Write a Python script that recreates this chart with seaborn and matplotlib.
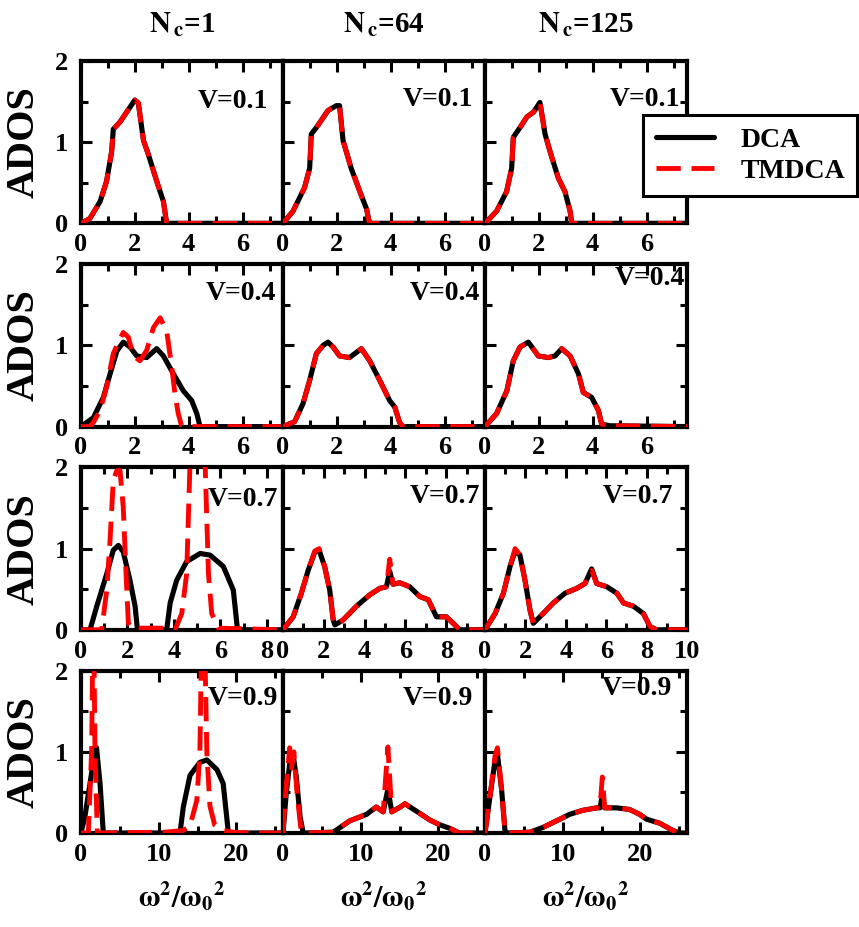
import matplotlib
matplotlib.use("Agg")
import matplotlib.pyplot as plt
from matplotlib.ticker import MultipleLocator
import numpy as np
import pandas as pd
import seaborn as sns

# ---------------------------------------------------------------- data
cluster_sizes = [1, 64, 125]
disorder = [0.1, 0.4, 0.7, 0.9]
x_upper = [[7.5, 7.5, 7.5], [7.5, 7.5, 7.5], [8.7, 9.9, 10.0], [26.0, 26.0, 26.0]]
x_major = [2, 2, 2, 10]
x_minor = [1, 1, 1, 5]

# V = 0.1
v01_nc1_x = [0, 0.33, 0.71, 0.95, 1.14, 1.2, 1.45, 2.0, 2.13, 2.32, 2.5, 2.81, 3.06, 3.18, 7.5]
v01_nc1_y = [0, 0.06, 0.27, 0.52, 0.89, 1.16, 1.25, 1.52, 1.48, 1.02, 0.85, 0.52, 0.27, 0, 0]
v01_nc64_x = [0, 0.37, 0.8, 0.99, 1.05, 1.24, 1.67, 1.98, 2.1, 2.23, 2.53, 2.9, 3.1, 3.2, 3.25, 7.5]
v01_nc64_y = [0, 0.15, 0.44, 0.68, 1.10, 1.18, 1.39, 1.45, 1.45, 1.02, 0.68, 0.35, 0.18, 0.02, 0, 0]
v01_nc125_x = [0, 0.43, 0.8, 0.99, 1.05, 1.3, 1.55, 1.8, 1.92, 2.04, 2.23, 2.41, 2.72, 2.97, 3.16, 3.22, 7.5]
v01_nc125_y = [0, 0.15, 0.39, 0.68, 1.06, 1.18, 1.31, 1.37, 1.43, 1.49, 1.10, 0.89, 0.56, 0.39, 0.15, 0, 0]

# V = 0.4
v04_nc1_dca_x = [0, 0.46, 0.83, 1.08, 1.33, 1.57, 1.82, 2.07, 2.44, 2.81, 3.06, 3.43, 3.8, 4.11, 4.3, 4.42, 7.5]
v04_nc1_dca_y = [0, 0.11, 0.36, 0.65, 0.93, 1.04, 0.98, 0.87, 0.85, 0.96, 0.87, 0.65, 0.44, 0.32, 0.16, 0, 0]
v04_nc1_tm_x = [0, 0.33, 0.46, 0.71, 0.95, 1.2, 1.39, 1.57, 1.76, 1.94, 2.19, 2.44, 2.69, 2.94, 3.18, 3.37,
                3.49, 3.61, 3.74, 7.5]
v04_nc1_tm_y = [0, 0, 0.05, 0.2, 0.49, 0.9, 1.04, 1.16, 1.1, 0.87, 0.81, 0.94, 1.22, 1.34, 1.18, 0.73,
                0.4, 0.16, 0, 0]
v04_nc64_x = [0, 0.43, 0.74, 0.99, 1.24, 1.49, 1.67, 1.86, 2.1, 2.47, 2.91, 3.22, 3.59, 3.96, 4.15, 4.33, 4.46, 7.5]
v04_nc64_y = [0, 0.06, 0.28, 0.57, 0.9, 1.0, 1.04, 0.98, 0.87, 0.85, 0.96, 0.81, 0.57, 0.32, 0.24, 0.05, 0, 0]
v04_nc125_x = [0, 0.43, 0.81, 1.05, 1.3, 1.61, 1.98, 2.35, 2.6, 2.85, 3.16, 3.47, 3.65, 3.96, 4.21, 4.33, 4.64, 7.5]
v04_nc125_y = [0, 0.16, 0.44, 0.81, 0.98, 1.04, 0.87, 0.85, 0.87, 0.96, 0.87, 0.65, 0.42, 0.36, 0.2, 0.03, 0.01, 0]

# V = 0.7
v07_nc1_dca_x = [0, 0.39, 0.68, 1.11, 1.39, 1.61, 1.82, 2.11, 2.33, 2.43, 3.69, 3.84, 4.12, 4.55, 5.13,
                 5.56, 6.13, 6.56, 6.74, 8.7]
v07_nc1_dca_y = [0, 0, 0.29, 0.69, 0.98, 1.04, 0.96, 0.61, 0.29, 0, 0, 0.33, 0.61, 0.84, 0.94,
                 0.92, 0.78, 0.49, 0, 0]
v07_nc1_tm_x = [0, 0.89, 1.11, 1.25, 1.39, 1.54, 1.68, 1.82, 1.94, 2.04, 2.18, 3.5, 4.05, 4.34, 4.55,
                4.7, 5.0, 5.34, 5.49, 5.63, 5.92, 8.7]
v07_nc1_tm_y = [0, 0, 0.49, 1.1, 1.84, 1.96, 1.96, 1.51, 0.69, 0.08, 0.02, 0.02, 0, 0.2, 0.69,
                2.1, 3.0, 2.1, 0.69, 0.2, 0.02, 0]
v07_nc64_x = [0, 0.5, 0.9, 1.23, 1.56, 1.77, 2.04, 2.29, 2.46, 2.54, 2.94, 3.6, 4.25, 4.74, 5.07, 5.23,
              5.39, 5.72, 6.21, 6.7, 7.12, 7.52, 8.01, 8.42, 8.66, 9.9]
v07_nc64_dca_y = [0, 0.16, 0.45, 0.73, 0.96, 0.98, 0.78, 0.49, 0.12, 0.06, 0.12, 0.29, 0.43, 0.51, 0.53, 0.72,
                  0.56, 0.58, 0.53, 0.41, 0.37, 0.16, 0.16, 0.06, 0, 0]
v07_nc64_tm_y = [0, 0.16, 0.45, 0.73, 0.97, 1.0, 0.78, 0.49, 0.12, 0.06, 0.12, 0.29, 0.43, 0.51, 0.53, 0.87,
                 0.56, 0.58, 0.53, 0.41, 0.37, 0.16, 0.16, 0.06, 0, 0]
v07_nc125_x = [0, 0.5, 0.91, 1.24, 1.49, 1.73, 1.98, 2.23, 2.39, 2.72, 3.38, 3.96, 4.54, 4.95, 5.28, 5.53,
               6.03, 6.53, 6.86, 7.35, 7.84, 8.17, 8.5, 10.0]
v07_nc125_dca_y = [0, 0.2, 0.45, 0.78, 0.97, 0.92, 0.61, 0.24, 0.08, 0.16, 0.33, 0.45, 0.51, 0.57, 0.75, 0.57,
                   0.53, 0.45, 0.33, 0.29, 0.2, 0.04, 0, 0]
v07_nc125_tm_y = [0, 0.2, 0.45, 0.78, 1.0, 0.92, 0.61, 0.24, 0.08, 0.16, 0.33, 0.45, 0.51, 0.57, 0.73, 0.57,
                  0.53, 0.45, 0.33, 0.29, 0.2, 0.04, 0, 0]

# V = 0.9
v09_nc1_dca_x = [0, 0.5, 1.16, 1.8, 2.0, 2.45, 2.87, 12.74, 13.17, 14.03, 15.3, 16.2, 17.5, 18.3, 18.97, 26]
v09_nc1_dca_y = [0, 0.2, 0.61, 1.02, 1.05, 0.61, 0, 0, 0.32, 0.71, 0.87, 0.9, 0.78, 0.61, 0, 0]
v09_nc1_tm_x = [0, 0.94, 1.37, 1.59, 1.8, 2.1, 10.8, 13.1, 14.0, 14.9, 15.3, 15.7, 16.2, 16.6, 17.2, 18.3,
                19.6, 22, 26]
v09_nc1_tm_y = [0, 0, 1.02, 3.0, 1.0, 0, 0.01, 0.03, 0.08, 0.4, 0.98, 3.5, 0.98, 0.33, 0.1, 0.03,
                0.01, 0, 0]
v09_nc64_dca_x = [0, 0.43, 0.86, 1.29, 1.7, 2.2, 2.6, 6.47, 8.6, 10.76, 12.0, 12.9, 13.5, 14.0, 15.1, 15.7,
                  17.0, 18.9, 20.2, 21.4, 22.7, 26]
v09_nc64_dca_y = [0, 0.5, 0.85, 0.97, 0.7, 0.2, 0, 0.01, 0.15, 0.23, 0.32, 0.26, 0.54, 0.26, 0.32, 0.36,
                  0.28, 0.16, 0.1, 0.06, 0, 0]
v09_nc64_tm_x = [0, 0.43, 0.86, 1.1, 1.4, 1.8, 2.3, 2.6, 6.47, 8.6, 10.76, 12.0, 12.9, 13.5, 14.0, 15.1,
                 15.7, 17.0, 18.9, 20.2, 21.4, 22.7, 26]
v09_nc64_tm_y = [0, 0.6, 1.05, 0.8, 1.0, 0.5, 0.05, 0, 0.01, 0.15, 0.23, 0.32, 0.26, 1.06, 0.26, 0.32,
                 0.36, 0.28, 0.16, 0.1, 0.06, 0, 0]
v09_nc125_x = [0, 0.64, 1.29, 1.6, 2.14, 2.57, 2.8, 5.8, 7.5, 9.2, 10.9, 12.6, 14.4, 14.8, 15.1, 15.4,
               16.9, 18.6, 19.9, 20.8, 22.5, 24.2, 25.1, 26]
v09_nc125_dca_y = [0, 0.45, 0.89, 0.97, 0.53, 0.03, 0, 0.01, 0.07, 0.15, 0.23, 0.28, 0.31, 0.31, 0.46, 0.31,
                   0.31, 0.29, 0.23, 0.17, 0.12, 0.03, 0, 0]
v09_nc125_tm_y = [0, 0.45, 0.95, 1.05, 0.53, 0.03, 0, 0.01, 0.07, 0.15, 0.23, 0.28, 0.31, 0.31, 0.69, 0.31,
                  0.31, 0.29, 0.23, 0.17, 0.12, 0.03, 0, 0]

# (dca_x, dca_y, tmdca_x, tmdca_y) for each row / column
curves = [
    [(v01_nc1_x, v01_nc1_y, v01_nc1_x, v01_nc1_y),
     (v01_nc64_x, v01_nc64_y, v01_nc64_x, v01_nc64_y),
     (v01_nc125_x, v01_nc125_y, v01_nc125_x, v01_nc125_y)],
    [(v04_nc1_dca_x, v04_nc1_dca_y, v04_nc1_tm_x, v04_nc1_tm_y),
     (v04_nc64_x, v04_nc64_y, v04_nc64_x, v04_nc64_y),
     (v04_nc125_x, v04_nc125_y, v04_nc125_x, v04_nc125_y)],
    [(v07_nc1_dca_x, v07_nc1_dca_y, v07_nc1_tm_x, v07_nc1_tm_y),
     (v07_nc64_x, v07_nc64_dca_y, v07_nc64_x, v07_nc64_tm_y),
     (v07_nc125_x, v07_nc125_dca_y, v07_nc125_x, v07_nc125_tm_y)],
    [(v09_nc1_dca_x, v09_nc1_dca_y, v09_nc1_tm_x, v09_nc1_tm_y),
     (v09_nc64_dca_x, v09_nc64_dca_y, v09_nc64_tm_x, v09_nc64_tm_y),
     (v09_nc125_x, v09_nc125_dca_y, v09_nc125_x, v09_nc125_tm_y)],
]

# placement of the "V=..." annotation (axes fraction, right-aligned)
v_label_pos = [
    [(0.926, 0.75), (0.94, 0.76), (0.965, 0.76)],
    [(0.965, 0.82), (0.975, 0.82), (0.99, 0.91)],
    [(0.975, 0.80), (0.975, 0.82), (0.93, 0.82)],
    [(0.975, 0.83), (0.94, 0.83), (0.926, 0.89)],
]

# ---------------------------------------------------------------- style
sns.set_style("ticks")
plt.rcParams.update({
    "font.family": ["Liberation Serif", "DejaVu Serif"],
    "font.weight": "bold",
    "mathtext.fontset": "stix",
    "axes.linewidth": 3.0,
    "axes.edgecolor": "black",
    "text.color": "black",
    "axes.labelcolor": "black",
    "xtick.color": "black",
    "ytick.color": "black",
})

W, H = 859, 927
fig, axes = plt.subplots(4, 3, figsize=(W / 100, H / 100), dpi=100)
fig.subplots_adjust(left=81 / W, right=687 / W, top=1 - 61 / H, bottom=1 - 833 / H,
                    wspace=0, hspace=41 / 163)

dash_pattern = (5.0, 2.2)

for r in range(4):
    for c in range(3):
        ax = axes[r, c]
        dx, dy, tx, ty = curves[r][c]
        dca = pd.DataFrame({"w2": dx, "ados": dy})
        tm = pd.DataFrame({"w2": tx, "ados": ty})
        sns.lineplot(data=dca, x="w2", y="ados", ax=ax, color="black", lw=3.7,
                     estimator=None, label="DCA" if (r, c) == (0, 0) else None, zorder=3)
        sns.lineplot(data=tm, x="w2", y="ados", ax=ax, color="#ff0000", lw=3.5,
                     estimator=None, linestyle=(0, dash_pattern),
                     label="TMDCA" if (r, c) == (0, 0) else None, zorder=4)
        if ax.get_legend() is not None:
            ax.get_legend().remove()

        ax.set_xlim(0, x_upper[r][c])
        ax.set_ylim(0, 2)
        ax.xaxis.set_major_locator(MultipleLocator(x_major[r]))
        ax.xaxis.set_minor_locator(MultipleLocator(x_minor[r]))
        ax.yaxis.set_major_locator(MultipleLocator(1))
        ax.yaxis.set_minor_locator(MultipleLocator(0.5))
        ax.tick_params(which="both", direction="in", top=True, bottom=True, left=True,
                       right=(c == 2), width=2.2, labelsize=19, pad=7, colors="black")
        ax.tick_params(which="major", length=8)
        ax.tick_params(which="minor", length=5)
        ax.tick_params(axis="y", labelleft=(c == 0), pad=9)
        for lab in ax.get_xticklabels() + ax.get_yticklabels():
            lab.set_fontweight("bold")

        ax.set_xlabel("")
        ax.set_ylabel("")
        if c == 0:
            ax.set_ylabel("ADOS", fontsize=29, fontweight="bold")
            ax.yaxis.set_label_coords(-0.19, 0.5)
        if r == 3:
            ax.set_xlabel(r"$\mathrm{\omega^2/\omega_0{}^2}$", fontsize=21, labelpad=10)
        if r == 0:
            ax.text(0.5, 1.172, r"$\mathbf{N_{\,c}}$=" + str(cluster_sizes[c]),
                    transform=ax.transAxes, ha="center", va="baseline",
                    fontsize=21, fontweight="bold")

        px, py = v_label_pos[r][c]
        ax.text(px, py, f"V={disorder[r]}", transform=ax.transAxes, ha="right",
                va="center", fontsize=20, fontweight="bold", zorder=5)

handles, labels = axes[0, 0].get_legend_handles_labels()
leg = fig.legend(handles, labels, loc="upper left", bbox_to_anchor=(643 / W, 1 - 115 / H),
                 bbox_transform=fig.transFigure, frameon=True, fancybox=False,
                 framealpha=1, edgecolor="black", fontsize=20, handlelength=2.1,
                 handletextpad=0.95, labelspacing=0.2, borderpad=0.45, borderaxespad=0)
leg.get_frame().set_linewidth(2.2)
for t in leg.get_texts():
    t.set_fontweight("bold")
    t.set_color("black")

fig.savefig("out.png", dpi=100, facecolor="white")
